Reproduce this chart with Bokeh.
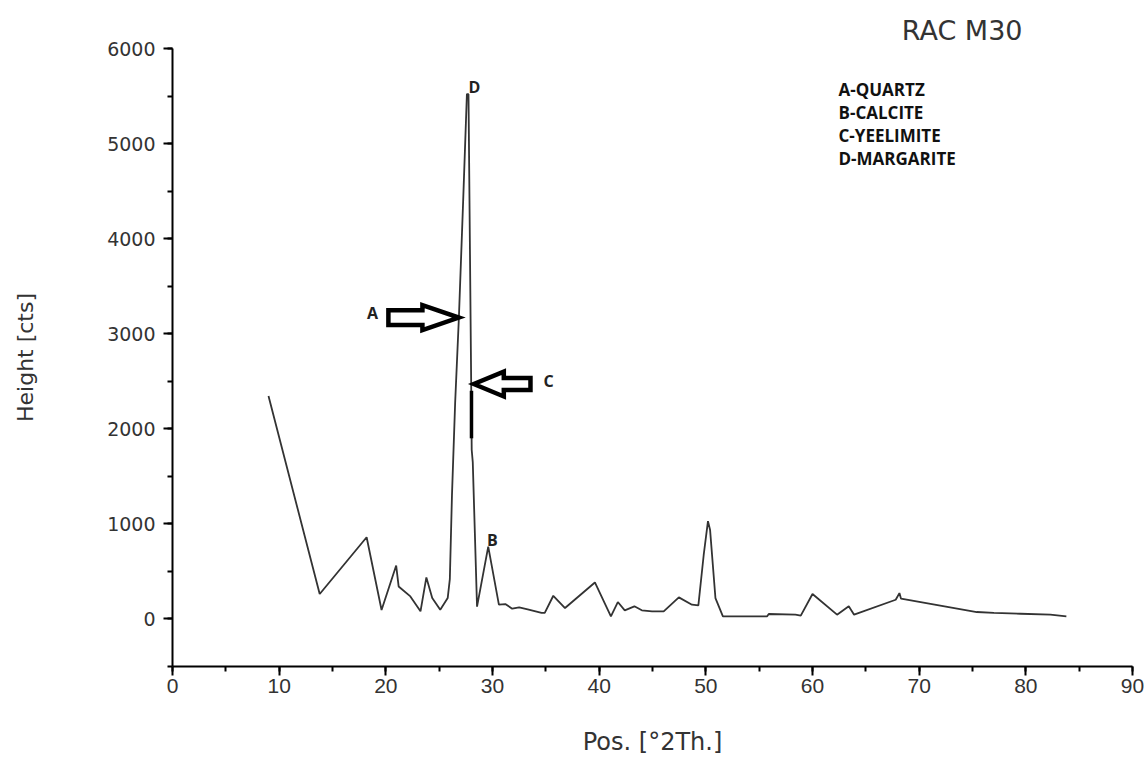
from bokeh.plotting import figure
from bokeh.models import ColumnDataSource, Label, SingleIntervalTicker, Range1d, Title
from bokeh.core.properties import value
from bokeh.embed import file_html
from bokeh.resources import INLINE

# ---- data ----
pos_2th = [9.0, 13.8, 18.2, 19.6, 20.97, 21.2, 22.3, 23.25, 23.8, 24.35, 25.1, 25.8,
           26.0, 26.2, 26.5, 26.85, 27.25, 27.6, 27.75, 28.0, 28.05, 28.15, 28.55,
           29.6, 30.6, 31.2, 31.85, 32.5, 33.3, 34.6, 34.9, 35.7, 36.8, 39.6, 41.1,
           41.75, 42.4, 43.3, 44.0, 44.96, 46.05, 47.47, 48.7, 49.3, 49.8, 50.2, 50.4,
           50.9, 51.6, 55.75, 55.9, 58.4, 58.9, 60.0, 62.3, 63.4, 63.9, 67.8, 68.15,
           68.3, 75.4, 77.0, 79.5, 82.3, 83.8]
height_cts = [2345, 262, 859, 94, 562, 342, 237, 80, 437, 220, 97, 220,
              420, 1300, 2280, 3170, 4400, 5520, 5520, 2500, 1780, 1650, 130,
              760, 150, 157, 108, 122, 100, 63, 63, 244, 115, 384, 28,
              178, 91, 133, 91, 80, 80, 227, 150, 143, 673, 1029, 935,
              220, 28, 28, 52, 45, 35, 262, 45, 133, 45, 202, 272,
              213, 73, 63, 55, 45, 28]

# yeelimite thick segment on the peak flank
yeel_x = [28.03, 28.03]
yeel_y = [2400, 1900]

# peak letters
peak_letters = ["D", "A", "C", "B"]
letter_x = [28.3, 18.75, 35.25, 29.98]
letter_y = [5590, 3214, 2508, 827]

legend_lines = ["A-QUARTZ", "B-CALCITE", "C-YEELIMITE", "D-MARGARITE"]
title_text = "RAC M30"

# block arrows: tip position, tail x, head-base x (data units)
arrow_tip_x = [26.84, 28.25]
arrow_tip_y = [3170, 2471]
arrow_tail_x = [20.24, 33.56]
arrow_head_x = [23.43, 31.06]
arrow_body_half = [78, 63]
arrow_head_half = [131, 131]

# ---- figure ----
p = figure(width=1147, height=758, output_backend="svg", toolbar_location=None,
           x_range=Range1d(0, 90), y_range=Range1d(-500, 6000),
           min_border_left=172, min_border_right=15, min_border_top=48, min_border_bottom=89)
p.outline_line_color = None
p.grid.visible = False
p.background_fill_color = "white"

p.line(pos_2th, height_cts, line_color="#333333", line_width=1.8)
p.line(yeel_x, yeel_y, line_color="black", line_width=3.5)

# arrows
xs, ys = [], []
for tx, ty, tl, hx, bh, hh in zip(arrow_tip_x, arrow_tip_y, arrow_tail_x, arrow_head_x,
                                  arrow_body_half, arrow_head_half):
    xs.append([tl, hx, hx, tx, hx, hx, tl])
    ys.append([ty + bh, ty + bh, ty + hh, ty, ty - hh, ty - bh, ty - bh])
p.patches(xs, ys, fill_color="white", line_color="black", line_width=4.5, line_join="miter")

src = ColumnDataSource(dict(x=letter_x, y=letter_y, t=peak_letters))
p.text("x", "y", text="t", source=src, text_font=value("Open Sans"), text_font_style="bold",
       text_font_size="16px", text_align="center", text_baseline="middle", text_color="#222222")

# axes
xa = p.xaxis[0]
ya = p.yaxis[0]
xa.ticker = SingleIntervalTicker(interval=10, num_minor_ticks=2)
ya.ticker = SingleIntervalTicker(interval=1000, num_minor_ticks=2)
for ax in (xa, ya):
    ax.axis_line_width = 2
    ax.axis_line_color = "black"
    ax.major_tick_line_width = 2
    ax.minor_tick_line_width = 2
    ax.major_tick_line_color = "black"
    ax.minor_tick_line_color = "black"
    ax.major_tick_in = 0
    ax.major_tick_out = 9
    ax.minor_tick_in = 0
    ax.minor_tick_out = 5
    ax.major_label_text_color = "#333333"
    ax.axis_label_text_color = "#333333"
    ax.axis_label_text_font_style = "normal"

xa.major_label_text_font = "Liberation Sans"
xa.major_label_text_font_size = "21px"
xa.major_label_standoff = 3
xa.axis_label = "Pos. [°2Th.]"
xa.axis_label_text_font = "DejaVu Sans"
xa.axis_label_text_font_size = "24px"
xa.axis_label_standoff = 32

ya.major_label_text_font = "DejaVu Sans"
ya.major_label_text_font_size = "19px"
ya.major_label_standoff = 8
ya.axis_label = "Height [cts]"
ya.axis_label_text_font = "DejaVu Sans"
ya.axis_label_text_font_size = "22px"
ya.axis_label_standoff = 66

# title (right aligned above frame)
p.add_layout(Title(text=title_text, align="right", offset=110, standoff=6,
                   text_font="DejaVu Sans", text_font_size="27px", text_font_style="normal",
                   text_color="#333333"), "above")

# legend text (screen units relative to frame)
for i, t in enumerate(legend_lines):
    p.add_layout(Label(x=666, y=577 - 23 * i, x_units="screen", y_units="screen", text=t,
                       text_font="Open Sans", text_font_style="bold", text_font_size="17px",
                       text_color="#111111", text_align="left", text_baseline="middle"))

open("out.html", "w").write(file_html(p, INLINE))
